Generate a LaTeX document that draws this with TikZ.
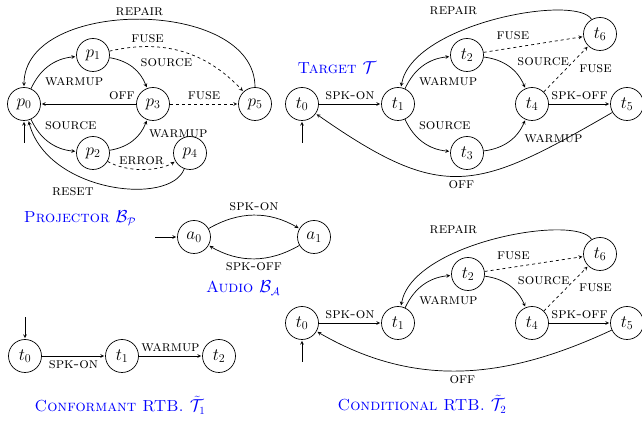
\documentclass[tikz,border=0pt]{standalone}
\usepackage{amsmath}
\usepackage{amssymb}
\usepackage{tikz}
\usepackage{xcolor}
\usetikzlibrary{automata,positioning,arrows}

\tikzset{
  every state/.style={minimum size=33pt,inner sep=0pt,font=\fontsize{17}{20}\selectfont},
  lbl/.style={font=\fontsize{15}{17}\selectfont\scshape,inner sep=4pt},
  title/.style={text=blue,font=\fontsize{16}{19}\selectfont\scshape},
  repair/.style={out=120,in=80,out distance=30pt,in distance=65pt},
}

\begin{document}
\begin{tikzpicture}[x=1pt,y=1pt,>=stealth,shorten >=1pt,on grid,auto,
    line width=0.7pt,initial text={},initial distance=22pt]
   \useasboundingbox (0,0) rectangle (642,422);

   % projector
   \node[state,initial below] (p_0) at (24,318) {$p_0$};
   \node[state] (p_1) [above right=49pt and 69pt of p_0] {$p_1$};
   \node[state] (p_3) [right=129pt of p_0] {$p_3$};
   \node[state] (p_2) [below right=49pt and 69pt of p_0] {$p_2$};
   \node[state] (p_4) [right=97pt of p_2] {$p_4$};
   \node[state] (p_5) [right=102pt of p_3] {$p_5$};
    \path[->]
    (p_0) edge [bend left] node [lbl,swap,pos=0.3] {warmup} (p_1)
          edge [bend right] node [lbl,pos=0.3] {source} (p_2)
    (p_1) edge [bend left] node [lbl,pos=0.6] {source} (p_3)
          edge [bend left=30,dashed] node [lbl,pos=0.25] {fuse} (p_5)
    (p_2) edge [bend right] node [lbl,swap,pos=0.9] {warmup} (p_3)
          edge [out=-30,in=-150,looseness=0.8,dashed] node [lbl] {error} (p_4)
    (p_3) edge node [lbl,swap,pos=0.15] {off} (p_0)
          edge [dashed] node [lbl] {fuse} (p_5)
    (p_4) edge [out=-110,in=-75,out distance=40pt,in distance=75pt]
                node [lbl,pos=0.55,below left] {reset} (p_0)
    (p_5) edge [out=90,in=90] node [lbl,swap] {repair} (p_0);
   \node[title] (proj) at (80,204) {Projector $\mathcal{B}_{\mathcal{P}}$};

   % target
   \node[state,initial below] (t_0) at (302,318) {$t_0$};
   \node[state] (t_1) [right=96pt of t_0] {$t_1$};
   \node[state] (t_2) [above right=49pt and 69pt of t_1] {$t_2$};
   \node[state] (t_3) [below right=49pt and 69pt of t_1] {$t_3$};
   \node[state] (t_4) [right=134pt of t_1] {$t_4$};
   \node[state] (t_5) [right=95pt of t_4] {$t_5$};
   \node[state] (t_6) [above right=70pt and 68pt of t_4] {$t_6$};
    \path[->]
    (t_0) edge node [lbl] {spk-on} (t_1)
    (t_1) edge [bend left] node [lbl,swap,pos=0.3] {warmup} (t_2)
          edge [bend right] node [lbl,pos=0.3] {source} (t_3)
    (t_2) edge [bend left] node [lbl,pos=0.6] {source} (t_4)
          edge [dashed] node [lbl] {fuse} (t_6)
    (t_3) edge [bend right] node [lbl,swap,pos=0.8] {warmup} (t_4)
    (t_4) edge node [lbl] {spk-off} (t_5)
          edge [dashed] node [lbl,swap,pos=0.7] {fuse} (t_6)
    (t_5) edge [out=-150,in=-35,looseness=1.35] node [lbl] {off} (t_0)
    (t_6) edge [repair] node [lbl,pos=0.55,above left,yshift=5pt] {repair} (t_1);
   \node[title] (targ) at (337,354) {Target $\mathcal{T}$};

   % audio
   \node[state,initial left] (a_0) at (194,185) {$a_0$};
   \node[state] (a_1) [right=120pt of a_0] {$a_1$};
    \path[->]
    (a_0) edge [bend left] node [lbl] {spk-on} (a_1)
    (a_1) edge [bend left] node [lbl] {spk-off} (a_0);
   \node[title] (aud) at (243,134) {Audio $\mathcal{B}_{\mathcal{A}}$};

   % conformant rtb
   \node[state,initial above] (r_0) at (25,66) {$t_0$};
   \node[state] (r_1) [right=97pt of r_0] {$t_1$};
   \node[state] (r_2) [right=97pt of r_1] {$t_2$};
    \path[->]
    (r_0) edge node [lbl,swap] {spk-on} (r_1)
    (r_1) edge node [lbl] {warmup} (r_2);
   \node[title] (conf) at (120,17) {Conformant RTB. $\tilde{\mathcal{T}}_1$};

   % conditional rtb
   \node[state,initial below] (s_0) at (302,99) {$t_0$};
   \node[state] (s_1) [right=96pt of s_0] {$t_1$};
   \node[state] (s_2) [above right=49pt and 70pt of s_1] {$t_2$};
   \node[state] (s_4) [right=134pt of s_1] {$t_4$};
   \node[state] (s_5) [right=95pt of s_4] {$t_5$};
   \node[state] (s_6) [above right=69pt and 68pt of s_4] {$t_6$};
    \path[->]
    (s_0) edge node [lbl] {spk-on} (s_1)
    (s_1) edge [bend left] node [lbl,swap,pos=0.3] {warmup} (s_2)
    (s_2) edge [bend left] node [lbl,pos=0.6] {source} (s_4)
          edge [dashed] node [lbl] {fuse} (s_6)
    (s_4) edge node [lbl] {spk-off} (s_5)
          edge [dashed] node [lbl,swap,pos=0.7] {fuse} (s_6)
    (s_5) edge [out=-155,in=-30,looseness=1] node [lbl] {off} (s_0)
    (s_6) edge [repair] node [lbl,pos=0.55,above left,yshift=5pt] {repair} (s_1);
   \node[title] (cond) at (422,18) {Conditional RTB. $\tilde{\mathcal{T}}_2$};
\end{tikzpicture}
\end{document}
